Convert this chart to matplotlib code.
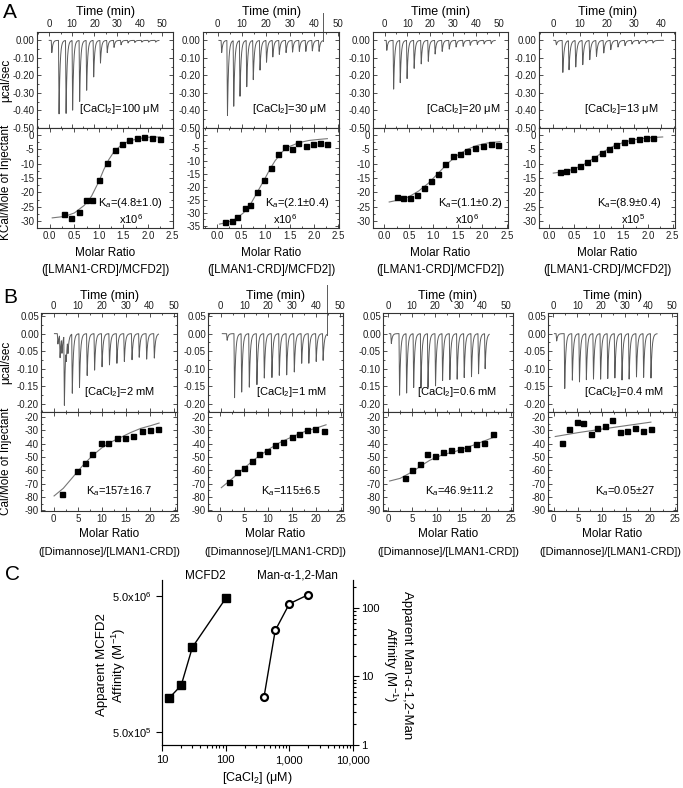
import numpy as np
import matplotlib
matplotlib.use("Agg")
import matplotlib.pyplot as plt
from matplotlib.ticker import MultipleLocator, FixedLocator, NullFormatter, LogLocator, FuncFormatter

plt.rcParams['font.family'] = ['Liberation Sans', 'DejaVu Sans']
plt.rcParams['mathtext.fontset'] = 'custom'
plt.rcParams['mathtext.rm'] = 'Liberation Sans'
plt.rcParams['mathtext.it'] = 'Liberation Sans:italic'
plt.rcParams['axes.unicode_minus'] = False

# ---------------- DATA ----------------
# Panel A raw thermograms (injection time in min, peak depth in ucal/sec)
A1_inj_t = [0.9, 4.1, 7.2, 10.1, 13.2, 16.3, 19.4, 22.4, 25.4, 28.4, 31.5, 34.6, 37.6, 40.7, 43.7, 46.8]
A1_inj_d = [0.07, 0.42, 0.42, 0.40, 0.35, 0.285, 0.21, 0.13, 0.07, 0.04, 0.025, 0.015, 0.012, 0.01, 0.01, 0.01]
A2_inj_t = [1.4, 3.8, 6.4, 9.0, 11.8, 14.5, 17.3, 20.0, 22.6, 25.3, 28.1, 30.8, 33.6, 36.3, 39.0, 41.8]
A2_inj_d = [0.07, 0.43, 0.375, 0.32, 0.265, 0.225, 0.17, 0.125, 0.095, 0.08, 0.07, 0.067, 0.063, 0.063, 0.06, 0.063]
A3_inj_t = [0.7, 3.7, 6.6, 9.6, 12.7, 15.8, 18.9, 21.9, 25.0, 28.1, 31.1, 34.2, 37.3, 40.4, 43.4, 46.5]
A3_inj_d = [0.057, 0.28, 0.243, 0.22, 0.16, 0.135, 0.12, 0.078, 0.063, 0.05, 0.038, 0.034, 0.028, 0.023, 0.02, 0.019]
A4_inj_t = [1.0, 3.4, 5.7, 8.2, 10.8, 13.4, 15.9, 18.6, 21.2, 23.9, 26.5, 29.1, 31.7, 34.3, 36.9]
A4_inj_d = [0.025, 0.183, 0.167, 0.152, 0.139, 0.11, 0.091, 0.072, 0.053, 0.038, 0.03, 0.021, 0.019, 0.015, 0.015]

# Panel A integrated heats (molar ratio, kcal/mol) and fitted curves
A1_x = [0.30, 0.44, 0.59, 0.73, 0.87, 1.01, 1.16, 1.32, 1.47, 1.62, 1.77, 1.92, 2.08, 2.24]
A1_y = [-27.5, -28.8, -26.6, -22.6, -22.7, -15.6, -9.8, -5.3, -3.3, -2.0, -1.3, -0.7, -1.2, -1.5]
A1_fx = [0.05, 0.3, 0.5, 0.7, 0.85, 1.0, 1.1, 1.2, 1.3, 1.45, 1.6, 1.8, 2.0, 2.25]
A1_fy = [-28.8, -28.3, -27.1, -24.5, -21.3, -16.2, -12.1, -8.7, -6.1, -3.7, -2.3, -1.4, -0.9, -0.8]
A2_x = [0.17, 0.30, 0.42, 0.57, 0.69, 0.83, 0.97, 1.11, 1.25, 1.40, 1.54, 1.68, 1.83, 1.98, 2.13, 2.28]
A2_y = [-33.7, -33.2, -31.7, -28.2, -27.2, -22.1, -17.6, -12.9, -7.4, -4.6, -5.5, -3.3, -4.2, -3.6, -3.1, -3.5]
A2_fx = [0.05, 0.2, 0.4, 0.55, 0.7, 0.85, 1.0, 1.1, 1.2, 1.35, 1.5, 1.7, 1.9, 2.1, 2.28]
A2_fy = [-34.4, -33.8, -32.3, -30.0, -26.5, -21.5, -16.5, -13.0, -10.0, -6.5, -4.5, -3.0, -2.2, -1.8, -1.5]
A3_x = [0.26, 0.39, 0.53, 0.67, 0.80, 0.95, 1.09, 1.24, 1.40, 1.54, 1.69, 1.85, 2.01, 2.17, 2.32]
A3_y = [-21.7, -21.8, -21.9, -20.8, -18.3, -15.9, -13.7, -10.0, -7.4, -6.6, -5.7, -4.7, -3.8, -3.1, -3.5]
A3_fx = [0.1, 0.3, 0.5, 0.7, 0.9, 1.1, 1.3, 1.5, 1.7, 1.9, 2.1, 2.36]
A3_fy = [-23.3, -22.6, -21.5, -19.5, -16.8, -13.3, -9.8, -7.0, -5.0, -3.7, -2.9, -2.4]
A4_x = [0.21, 0.34, 0.48, 0.62, 0.77, 0.91, 1.06, 1.21, 1.36, 1.51, 1.66, 1.81, 1.96, 2.11]
A4_y = [-13.0, -12.6, -12.0, -10.7, -9.6, -8.2, -6.3, -4.8, -3.7, -2.5, -1.8, -1.5, -1.3, -1.2]
A4_fx = [0.08, 0.3, 0.5, 0.7, 0.9, 1.1, 1.3, 1.5, 1.7, 1.9, 2.1, 2.3]
A4_fy = [-13.3, -12.8, -11.9, -10.3, -8.2, -5.9, -4.0, -2.7, -1.8, -1.3, -1.0, -0.8]

# Panel B raw thermograms
B1_inj_t = [1.5, 2.4, 3.2, 4.2, 5.0, 5.7, 7.5, 10.5, 13.7, 16.8, 19.9, 23.0, 26.1, 29.2, 32.4, 35.4, 38.5, 41.7]
B1_inj_d = [0.03, 0.065, 0.045, 0.2, 0.045, 0.04, 0.17, 0.155, 0.12, 0.105, 0.095, 0.09, 0.085, 0.08, 0.075, 0.068, 0.073, 0.07]
B2_inj_t = [2.5, 5.6, 8.6, 11.8, 15.0, 18.1, 21.3, 24.4, 27.5, 30.7, 33.8, 36.8, 39.9, 42.8]
B2_inj_d = [0.019, 0.185, 0.168, 0.154, 0.146, 0.128, 0.126, 0.12, 0.118, 0.11, 0.085, 0.085, 0.08, 0.077]
B3_inj_t = [1.0, 4.5, 7.5, 10.5, 13.6, 16.6, 19.8, 22.8, 25.9, 29.0, 32.0, 35.1, 38.1, 40.9]
B3_inj_d = [0.028, 0.176, 0.171, 0.154, 0.157, 0.154, 0.15, 0.134, 0.132, 0.131, 0.126, 0.124, 0.115, 0.1]
B4_inj_t = [1.1, 4.5, 7.7, 10.7, 13.6, 16.6, 19.6, 22.6, 25.6, 28.6, 31.6, 34.7, 37.7, 40.8]
B4_inj_d = [0.021, 0.157, 0.134, 0.138, 0.132, 0.131, 0.13, 0.129, 0.127, 0.133, 0.131, 0.124, 0.126, 0.127]

# Panel B integrated heats (molar ratio, cal/mol) and fitted curves
B1_x = [1.8, 4.9, 6.4, 8.0, 9.7, 11.3, 13.0, 14.7, 16.4, 18.2, 19.9, 21.6]
B1_y = [-77.4, -60.3, -54.3, -47.5, -39.1, -39.6, -35.9, -35.4, -34.4, -30.1, -29.8, -29.1]
B1_fx = [0.1, 2, 4, 6, 8, 10, 12, 14, 16, 18, 20, 21.8]
B1_fy = [-79.2, -73.5, -65, -56.5, -49, -43, -38.5, -35, -31.5, -28.5, -26.5, -24.5]
B2_x = [1.9, 3.5, 5.1, 6.6, 8.2, 9.7, 11.4, 13.1, 14.9, 16.4, 18.1, 19.8, 21.5]
B2_y = [-68.9, -61.6, -58.0, -53.0, -47.5, -45.7, -40.7, -38.9, -34.9, -32.8, -29.6, -29.3, -30.1]
B2_fx = [0.35, 2.5, 5, 7.5, 10, 12.5, 15, 17.5, 20, 22]
B2_fy = [-73, -66.5, -58.5, -51, -44.5, -39, -34.8, -31, -28.2, -25.8]
B3_x = [3.4, 4.9, 6.5, 8.0, 9.6, 11.2, 12.9, 14.6, 16.2, 17.9, 19.6, 21.4]
B3_y = [-65.8, -59.5, -55.0, -47.7, -49.0, -46.2, -44.7, -43.9, -43.2, -39.9, -39.6, -32.8]
B3_fx = [0.35, 2.5, 5, 7, 8.5, 11, 14, 17.5, 21.4]
B3_fy = [-68, -66, -61, -56, -52.5, -48.5, -45.5, -41, -35.4]
B4_x = [1.8, 3.2, 4.7, 6.1, 7.6, 9.0, 10.5, 12.1, 13.6, 15.2, 16.8, 18.4, 20.1]
B4_y = [-39.1, -28.8, -24.0, -24.5, -32.8, -28.3, -26.8, -22.3, -31.1, -30.1, -28.3, -30.3, -29.3]
B4_fx = [0.3, 5, 10, 15, 20.1]
B4_fy = [-34.6, -31.7, -29.0, -26.4, -23.8]

# Panel C
mcfd2_ca = [13, 20, 30, 100]
mcfd2_ka = [8.9e5, 1.1e6, 2.1e6, 4.8e6]
man_ca = [400, 600, 1000, 2000]
man_ka = [5, 46.9, 115, 157]

A_conc = ['100', '30', '20', '13']
A_ka = ['(4.8±1.0)', '(2.1±0.4)', '(1.1±0.2)', '(8.9±0.4)']
A_exp = ['6', '6', '6', '5']
B_conc = ['2', '1', '0.6', '0.4']
B_ka = ['157±16.7', '115±6.5', '46.9±11.2', '0.05±27']

# ---------------- LAYOUT ----------------
W, H = 683, 788
fig = plt.figure(figsize=(W / 100, H / 100), dpi=100)


def box(x0, x1, y0, y1):
    return [x0 / W, 1 - y1 / H, (x1 - x0) / W, (y1 - y0) / H]


def thermogram(inj_t, inj_d, t0, t1):
    t = np.linspace(t0, t1, 6000)
    y = np.zeros_like(t)
    for ti, d in zip(inj_t, inj_d):
        dt = t - ti
        down = (dt > 0) & (dt <= 0.25)
        y[down] -= d * dt[down] / 0.25
        rec = dt > 0.25
        y[rec] -= d * np.exp(-(dt[rec] - 0.25) / 0.45)
    return t, y


TRACE = '#5a5a5a'
SPINE = '#333333'


def style_ax(ax):
    for s in ax.spines.values():
        s.set_linewidth(0.8)
        s.set_color(SPINE)
    ax.tick_params(which='both', direction='in', top=True, right=True, bottom=True, left=True,
                   labelsize=7, width=0.6, colors=SPINE, labelcolor='#222222', pad=2)
    ax.tick_params(which='major', length=3)
    ax.tick_params(which='minor', length=1.5)


def px_y(yp, ax_top, ax_bot):
    # pixel row -> axes fraction for an axes spanning rows ax_top..ax_bot
    return (ax_bot - yp) / (ax_bot - ax_top)


A_cols = [(37, 173), (203, 339), (373, 508), (539, 675)]
A_time_lim = [(-5.4, 54.7), (-6.1, 50.3), (-5.1, 54.1), (-5.2, 45.3)]
A_mol_lim = [(-0.26, 2.51), (-0.29, 2.52), (-0.23, 2.52), (-0.21, 2.55)]
A_time_ticks = [range(0, 51, 10), range(0, 51, 10), range(0, 51, 10), range(0, 41, 10)]
A_raw = [(A1_inj_t, A1_inj_d, 0.0, 48.5), (A2_inj_t, A2_inj_d, 0.5, 43.8),
         (A3_inj_t, A3_inj_d, 0.0, 48.5), (A4_inj_t, A4_inj_d, 0.3, 41.0)]
A_pts = [(A1_x, A1_y, A1_fx, A1_fy), (A2_x, A2_y, A2_fx, A2_fy),
         (A3_x, A3_y, A3_fx, A3_fy), (A4_x, A4_y, A4_fx, A4_fy)]
A_ylim_bot = [(-32.3, 2.3), (-35.9, 2.6), (-32.3, 2.3), (-32.3, 2.3)]
A_yticks_bot = [range(-30, 1, 5), range(-35, 1, 5), range(-30, 1, 5), range(-30, 1, 5)]
A_txt_x = [0.92, 0.93, 0.96, 0.90]
A_exp_x = [0.69, 0.60, 0.70, 0.69]

for i in range(4):
    x0, x1 = A_cols[i]
    axt = fig.add_axes(box(x0, x1, 32, 128))
    axb = fig.add_axes(box(x0, x1, 128, 228))
    style_ax(axt)
    style_ax(axb)
    it, idp, t0, t1 = A_raw[i]
    t, y = thermogram(it, idp, t0, t1)
    axt.plot(t, y, color=TRACE, lw=0.7)
    if i == 1:
        axt.plot([t1, t1], [y[-1], 0.156], color=TRACE, lw=0.7, clip_on=False)
    axt.set_xlim(*A_time_lim[i])
    axt.set_ylim(-0.5, 0.048)
    axt.xaxis.set_major_locator(FixedLocator(list(A_time_ticks[i])))
    axt.xaxis.set_minor_locator(MultipleLocator(5))
    axt.yaxis.set_major_locator(MultipleLocator(0.1))
    axt.yaxis.set_minor_locator(MultipleLocator(0.05))
    axt.yaxis.set_major_formatter(FuncFormatter(lambda v, p: '%.2f' % v if abs(v) > 1e-9 else '0.00'))
    axt.tick_params(labeltop=True, labelbottom=False)
    axt.set_xlabel('Time (min)', fontsize=9, labelpad=3)
    axt.xaxis.set_label_position('top')
    axt.text(A_txt_x[i] - 0.02, 0.2, '[CaCl$_2$]=' + A_conc[i] + ' μM', transform=axt.transAxes,
             ha='right', va='center', fontsize=8)

    xs, ys, fx, fy = A_pts[i]
    axb.plot(fx, fy, color='#777777', lw=0.8)
    axb.plot(xs, ys, 's', color='black', ms=3.6)
    axb.set_xlim(*A_mol_lim[i])
    axb.set_ylim(*A_ylim_bot[i])
    axb.xaxis.set_major_locator(MultipleLocator(0.5))
    axb.xaxis.set_minor_locator(MultipleLocator(0.25))
    axb.xaxis.set_major_formatter(FuncFormatter(lambda v, p: '%.1f' % v))
    axb.yaxis.set_major_locator(FixedLocator(list(A_yticks_bot[i])))
    axb.yaxis.set_minor_locator(MultipleLocator(2.5))
    axb.text(0.5, px_y(253, 128, 228), 'Molar Ratio', transform=axb.transAxes,
             ha='center', va='center', fontsize=8.5)
    axb.text(0.5, px_y(270, 128, 228), '([LMAN1-CRD]/MCFD2])', transform=axb.transAxes,
             ha='center', va='center', fontsize=8.3)
    axb.text(A_txt_x[i], 0.25, 'K$_{a}$=' + A_ka[i], transform=axb.transAxes,
             ha='right', va='center', fontsize=8)
    axb.text(A_exp_x[i], 0.09, 'x10$^{' + A_exp[i] + '}$', transform=axb.transAxes,
             ha='center', va='center', fontsize=8)
    if i == 0:
        axt.set_ylabel('μcal/sec', fontsize=8.5)
        axt.yaxis.set_label_coords((12.5 - x0) / (x1 - x0), 0.5)
        axb.set_ylabel('KCal/Mole of Injectant', fontsize=8.5)
        axb.yaxis.set_label_coords((12.5 - x0) / (x1 - x0), 0.46)

# Panel B
B_cols = [(41, 177), (208, 343), (383, 513), (548, 677)]
B_time_lim = [(-5.3, 51.4), (-5.3, 51.4), (-2.3, 53.0), (-2.3, 52.0)]
B_mol_lim = [(-2.6, 25.5), (-2.4, 25.5), (-1.0, 25.5), (-1.2, 25.5)]
B_raw = [(B1_inj_t, B1_inj_d, 0.3, 43.7), (B2_inj_t, B2_inj_d, 0.7, 44.5),
         (B3_inj_t, B3_inj_d, 0.4, 42.9), (B4_inj_t, B4_inj_d, 0.4, 43.6)]
B_pts = [(B1_x, B1_y, B1_fx, B1_fy), (B2_x, B2_y, B2_fx, B2_fy),
         (B3_x, B3_y, B3_fx, B3_fy), (B4_x, B4_y, B4_fx, B4_fy)]
B_txt_x = [0.84, 0.88, 0.88, 0.90]
B_ka_x = [0.82, 0.84, 0.86, 0.83]
B_lab_x = [0.5, 0.5, 0.5, 0.48]

for i in range(4):
    x0, x1 = B_cols[i]
    axt = fig.add_axes(box(x0, x1, 313, 412))
    axb = fig.add_axes(box(x0, x1, 412, 511))
    style_ax(axt)
    style_ax(axb)
    it, idp, t0, t1 = B_raw[i]
    t, y = thermogram(it, idp, t0, t1)
    axt.plot(t, y, color=TRACE, lw=0.7)
    if i == 1:
        axt.plot([t1, t1], [y[-1], 0.14], color=TRACE, lw=0.7, clip_on=False)
    axt.set_xlim(*B_time_lim[i])
    axt.set_ylim(-0.224, 0.059)
    axt.xaxis.set_major_locator(MultipleLocator(10))
    axt.xaxis.set_minor_locator(MultipleLocator(5))
    axt.yaxis.set_major_locator(MultipleLocator(0.05))
    axt.yaxis.set_minor_locator(MultipleLocator(0.025))
    axt.yaxis.set_major_formatter(FuncFormatter(lambda v, p: '%.2f' % v if abs(v) > 1e-9 else '0.00'))
    axt.tick_params(labeltop=True, labelbottom=False, pad=1.5)
    axt.set_xlabel('Time (min)', fontsize=9, labelpad=1.5)
    axt.xaxis.set_label_position('top')
    axt.text(B_txt_x[i], 0.2, '[CaCl$_2$]=' + B_conc[i] + ' mM', transform=axt.transAxes,
             ha='right', va='center', fontsize=8)

    xs, ys, fx, fy = B_pts[i]
    axb.plot(fx, fy, color='#777777', lw=0.8)
    axb.plot(xs, ys, 's', color='black', ms=3.6)
    axb.set_xlim(*B_mol_lim[i])
    axb.set_ylim(-90.5, -16.2)
    axb.xaxis.set_major_locator(MultipleLocator(5))
    axb.xaxis.set_minor_locator(MultipleLocator(2.5))
    axb.yaxis.set_major_locator(MultipleLocator(10))
    axb.yaxis.set_minor_locator(MultipleLocator(5))
    axb.text(0.5, px_y(534, 412, 511), 'Molar Ratio', transform=axb.transAxes,
             ha='center', va='center', fontsize=8.5)
    axb.text(B_lab_x[i], px_y(552, 412, 511), '([Dimannose]/[LMAN1-CRD])', transform=axb.transAxes,
             ha='center', va='center', fontsize=7.9)
    axb.text(B_ka_x[i], 0.2, 'K$_{a}$=' + B_ka[i], transform=axb.transAxes,
             ha='right', va='center', fontsize=8)
    if i == 0:
        axt.set_ylabel('μcal/sec', fontsize=8.5)
        axt.yaxis.set_label_coords((12.5 - x0) / (x1 - x0), 0.5)
        axb.set_ylabel('Cal/Mole of Injectant', fontsize=8.5)
        axb.yaxis.set_label_coords((12.5 - x0) / (x1 - x0), 0.5)

# Panel C
axc = fig.add_axes(box(162, 353, 580, 745))
axc.set_xscale('log')
axc.set_yscale('log')
axc.plot(mcfd2_ca, mcfd2_ka, '-s', color='black', ms=6, lw=1.0)
axc.set_xlim(10, 10000)
axc.set_ylim(4.01e5, 6.56e6)
axc.set_yticks([5e5, 5e6])
axc.set_yticklabels(['5.0x10$^{5}$', '5.0x10$^{6}$'])
axc.yaxis.set_minor_locator(FixedLocator([]))
axc.set_xticks([10, 100, 1000, 10000])
axc.set_xticklabels(['10', '100', '1,000', '10,000'])
axc.xaxis.set_minor_locator(LogLocator(base=10, subs=np.arange(2, 10)))
axc.xaxis.set_minor_formatter(NullFormatter())
axc.spines['top'].set_visible(False)
axc.tick_params(which='both', direction='out', labelsize=8, width=0.8)
axc.tick_params(which='major', length=4)
axc.tick_params(which='minor', length=2.5)
axc.set_xlabel('[CaCl$_2$] (μM)', fontsize=9, labelpad=3)

ax2 = axc.twinx()
ax2.set_yscale('log')
ax2.plot(man_ca, man_ka, '-o', color='black', mfc='white', mec='black', mew=1.6, ms=5, lw=1.0)
ax2.set_ylim(1, 256)
ax2.set_yticks([1, 10, 100])
ax2.set_yticklabels(['1', '10', '100'])
ax2.yaxis.set_minor_locator(LogLocator(base=10, subs=np.arange(2, 10)))
ax2.yaxis.set_minor_formatter(NullFormatter())
ax2.spines['top'].set_visible(False)
ax2.tick_params(which='both', direction='out', labelsize=8, width=0.8, pad=2)
ax2.tick_params(which='major', length=4)
ax2.tick_params(which='minor', length=2.5)

fig.text(112 / W, 1 - 665 / H, 'Apparent MCFD2\nAffinity (M$^{-1}$)', fontsize=9.5,
         rotation=90, ha='center', va='center', linespacing=1.1)
fig.text(397 / W, 1 - 665 / H, 'Apparent Man-α-1,2-Man\nAffinity (M$^{-1}$)', fontsize=9.5,
         rotation=270, ha='center', va='center', linespacing=1.1)

fig.text(205 / W, 1 - 576 / H, 'MCFD2', fontsize=8.5, ha='center', va='center')
fig.text(297 / W, 1 - 576 / H, 'Man-α-1,2-Man', fontsize=8.5, ha='center', va='center')

fig.text(3 / W, 1 - 12 / H, 'A', fontsize=15, ha='left', va='center')
fig.text(3 / W, 1 - 297 / H, 'B', fontsize=15, ha='left', va='center')
fig.text(5 / W, 1 - 575 / H, 'C', fontsize=15, ha='left', va='center')

fig.savefig('out.png', dpi=100)
